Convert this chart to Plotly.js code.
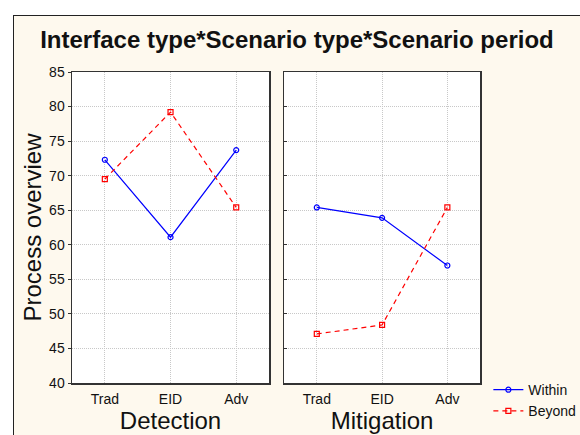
<!DOCTYPE html>
<html><head><meta charset="utf-8">
<script src="https://cdn.plot.ly/plotly-3.0.1.min.js"></script>
<style>
html,body{margin:0;padding:0;background:#ffffff;}
#frame{position:absolute;left:13px;top:15px;width:600px;height:460px;background:#fef9ee;border-left:1px solid #222;border-top:1px solid #222;}
#chart{position:absolute;left:0;top:0;width:580px;height:435px;}
</style></head>
<body>
<div id="frame"></div>
<div id="chart"></div>
<script>
const categories = ["Trad", "EID", "Adv"];
const detectionWithin = [72.3, 61.1, 73.7];
const detectionBeyond = [69.5, 79.2, 65.4];
const mitigationWithin = [65.4, 63.9, 57.0];
const mitigationBeyond = [47.1, 48.4, 65.4];
const panelTitles = ["Detection", "Mitigation"];
const seriesNames = ["Within", "Beyond"];

const within = {color:'#0000ff', width:1.2, dash:'solid'};
const beyond = {color:'#ff0000', width:1.2, dash:'5px,4px'};

const traces = [
  {x:categories, y:detectionWithin, name:seriesNames[0], xaxis:'x', yaxis:'y', mode:'lines+markers',
   line:within, marker:{symbol:'circle-open', size:5, color:'#0000ff', line:{width:1.2}}, legendrank:1},
  {x:categories, y:detectionBeyond, name:seriesNames[1], xaxis:'x', yaxis:'y', mode:'lines+markers',
   line:beyond, marker:{symbol:'square-open', size:5, color:'#ff0000', line:{width:1.2}}, legendrank:2},
  {x:categories, y:mitigationWithin, name:seriesNames[0], xaxis:'x2', yaxis:'y2', mode:'lines+markers', showlegend:false,
   line:within, marker:{symbol:'circle-open', size:5, color:'#0000ff', line:{width:1.2}}},
  {x:categories, y:mitigationBeyond, name:seriesNames[1], xaxis:'x2', yaxis:'y2', mode:'lines+markers', showlegend:false,
   line:beyond, marker:{symbol:'square-open', size:5, color:'#ff0000', line:{width:1.2}}}
];

const font = {family:'"Liberation Sans", Arial, sans-serif', color:'#111'};
const gridStyle = {showgrid:true, gridcolor:'#c8c8c8', griddash:'1px,1px', gridwidth:1};
function xax(domain, title, anchor){
  return Object.assign({domain:domain, anchor:anchor, type:'category', range:[-0.5,2.5], automargin:false,
    showline:true, linecolor:'#333', linewidth:1.5, mirror:true, ticks:'', zeroline:false,
    tickfont:{size:14, color:'#111'}, ticklabelstandoff:3,
    title:{text:title, font:{size:24, color:'#111'}, standoff:4}}, gridStyle);
}
function yax(anchor, showLabels, title){
  return Object.assign({anchor:anchor, range:[40,85], dtick:5, showline:true, linecolor:'#333', linewidth:1.5, automargin:false,
    mirror:true, ticks: showLabels ? 'outside' : 'inside', ticklen:3, tickcolor:'#333', showticklabels:showLabels, zeroline:false,
    tickfont:{size:14, color:'#111'},
    title:{text:title, font:{size:24, color:'#111'}, standoff:0}}, gridStyle);
}

const layout = {
  width:580, height:435,
  margin:{l:72, r:100, t:72, b:52},
  paper_bgcolor:'rgba(0,0,0,0)', plot_bgcolor:'#ffffff',
  font:font,
  title:{text:'<b>Interface type*Scenario type*Scenario period</b>', font:{size:24, color:'#111'},
    x:0.512, xanchor:'center', y:0.908, yanchor:'middle', yref:'container', automargin:false},
  xaxis: xax([0, 0.483], panelTitles[0], 'y'),
  xaxis2: xax([0.52, 1], panelTitles[1], 'y2'),
  yaxis: yax('x', true, 'Process overview'),
  yaxis2: yax('x2', false, ''),
  showlegend:true,
  legend:{xref:'container', yref:'container', x:0.842, xanchor:'left', y:0.14, yanchor:'top', bgcolor:'rgba(0,0,0,0)',
    font:{size:14, color:'#111'}, tracegroupgap:0, itemwidth:30}
};

Plotly.newPlot('chart', traces, layout, {displayModeBar:false, staticPlot:true});
</script>
</body></html>
